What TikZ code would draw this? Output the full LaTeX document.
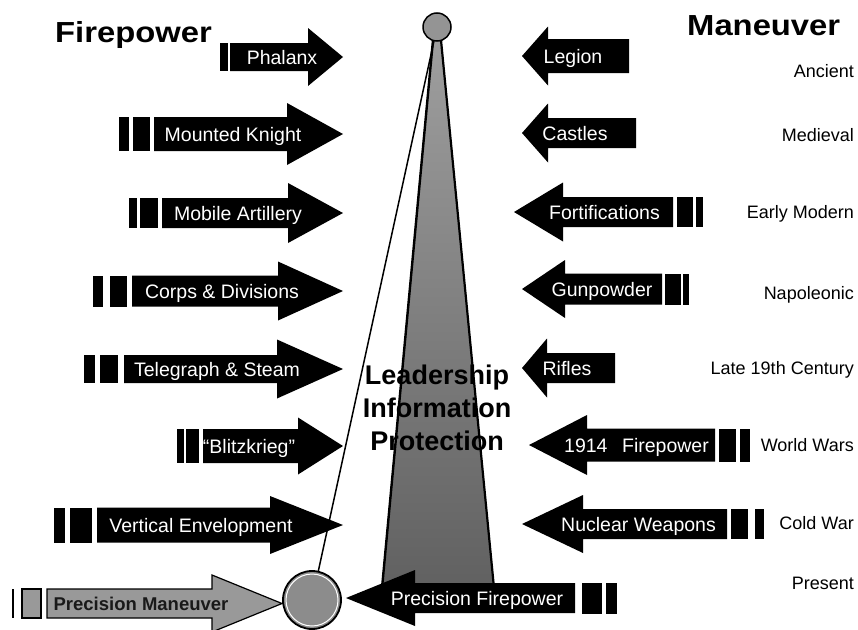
\documentclass[tikz,border=0pt]{standalone}
\usepackage{fontspec}
\setmainfont{Liberation Sans}
\newcommand\RightArr[6]{% x0, xhead, xtip, yc, body half, head half
  \fill (#1,#4-#5) -- (#2,#4-#5) -- (#2,#4-#6) -- (#3,#4) -- (#2,#4+#6) -- (#2,#4+#5) -- (#1,#4+#5) -- cycle;}
\newcommand\LeftArr[6]{% xtip, xhead, xend, yc, body half, head half
  \fill (#3,#4-#5) -- (#2,#4-#5) -- (#2,#4-#6) -- (#1,#4) -- (#2,#4+#6) -- (#2,#4+#5) -- (#3,#4+#5) -- cycle;}
\newcommand\TickBar[4]{\fill (#1,#3-#4) rectangle (#2,#3+#4);}
\tikzset{
  lbl/.style={text=white, font=\fontsize{19.5}{22}\selectfont, inner sep=0, anchor=base},
  era/.style={font=\fontsize{18}{21}\selectfont, inner sep=0, anchor=base east},
  ttl/.style={font=\bfseries\fontsize{29}{33}\selectfont, inner sep=0, anchor=base west},
  pm/.style={fill=black!40, draw=black, line width=1.2pt},
}
\begin{document}
\begin{tikzpicture}[x=1pt,y=-1pt]
\useasboundingbox[fill=white] (0,0) rectangle (858,629);

% cone
\fill[top color=black!38, bottom color=black!62]
  (433,40) -- (441,40) -- (494,588) -- (382,588) -- cycle;
\draw[line width=2.4pt] (433,40) -- (382,588);
\draw[line width=2.2pt] (441,40) -- (494,588);

% circles
\node[circle, draw, line width=1.5pt, fill=black!42, minimum size=28pt, inner sep=0] (tc) at (437,27) {};
\node[circle, draw, line width=1.8pt, fill=black!45, minimum size=58pt, inner sep=0] (bc) at (312,600) {};
\draw[white, line width=1pt] (bc.center) circle (26);
\draw[line width=1.5pt] (bc) -- (tc);

% titles
\node[ttl] (fp) at (55,42) {\scalebox{1.13}[1]{Firepower}};
\node[ttl] (mn) at (687,35) {\scalebox{1.13}[1]{Maneuver}};

% left column: right-pointing arrows
\TickBar{220}{228}{57}{14}
\RightArr{230}{308}{343}{57}{14}{29}
\node[lbl] (a1) at (282,64) {Phalanx};

\TickBar{119}{129}{134}{17}\TickBar{133}{150}{134}{17}
\RightArr{154}{287}{343}{134}{17}{31}
\node[lbl] (a2) at (233,141) {Mounted Knight};

\TickBar{129}{137}{213}{15}\TickBar{140}{158}{213}{15}
\RightArr{162}{288}{343}{213}{15}{30}
\node[lbl] (a3) at (238,220) {Mobile Artillery};

\TickBar{93}{103}{291}{15.5}\TickBar{110}{127}{291}{15.5}
\RightArr{132}{278}{343}{291}{15.5}{29.5}
\node[lbl] (a4) at (222,298) {Corps \& Divisions};

\TickBar{84}{95}{369}{14}\TickBar{100}{118}{369}{14}
\RightArr{124}{277}{343}{369}{14}{29.5}
\node[lbl] (a5) at (217,376) {Telegraph \& Steam};

\TickBar{177}{184}{446}{17}\TickBar{186}{199}{446}{17}
\RightArr{203}{298}{343}{446}{17}{28.5}
\node[lbl] (a6) at (249,453) {``Blitzkrieg''};

\TickBar{54}{65}{525}{17.5}\TickBar{70}{92}{525}{17.5}
\RightArr{97}{270}{343}{525}{17.5}{29}
\node[lbl] (a7) at (201,532) {Vertical Envelopment};

\TickBar{12}{14}{603.5}{14.5}
\draw[pm] (22,589) rectangle (41,618);
\draw[pm] (47,589) -- (212,589) -- (212,575) -- (282,603.5) -- (212,632) -- (212,618) -- (47,618) -- cycle;
\node[lbl, text=black!90, font=\bfseries\fontsize{18.5}{22}\selectfont] (a8) at (141,610) {Precision Maneuver};

% right column: left-pointing arrows
\LeftArr{522}{548}{629}{56}{17}{29.5}
\node[lbl] (b1) at (573,63) {Legion};

\LeftArr{522}{548}{636}{133}{15}{29.5}
\node[lbl] (b2) at (575,140) {Castles};

\LeftArr{514}{563}{673}{212}{15}{29.5}
\TickBar{677}{693}{212}{15}\TickBar{696}{703}{212}{15}
\node[lbl] (b3) at (604.5,219) {Fortifications};

\LeftArr{522}{565}{662}{289}{15.5}{29}
\TickBar{665}{681}{289}{15.5}\TickBar{683}{689}{289}{15.5}
\node[lbl] (b4) at (602,296) {Gunpowder};

\LeftArr{522}{547}{615}{368}{15}{29.5}
\node[lbl] (b5) at (567,375) {Rifles};

\LeftArr{529}{587}{715}{445}{16.5}{30}
\TickBar{719}{736}{445}{16.5}\TickBar{740}{750}{445}{16.5}
\node[lbl] (b6) at (636.5,452) {1914\hspace{0.75em}Firepower};

\LeftArr{522}{583}{727}{524}{15}{29}
\TickBar{731}{748}{524}{15}\TickBar{755}{764}{524}{15}
\node[lbl] (b7) at (638.5,531) {Nuclear Weapons};

\LeftArr{346}{415}{575}{598}{15}{28}
\TickBar{582}{602}{598.5}{15.5}\TickBar{606}{617}{598.5}{15.5}
\node[lbl] (b8) at (477,605) {Precision Firepower};

% centre text
\node[font=\bfseries\fontsize{27}{33}\selectfont, align=center, inner sep=0] (lip) at (437,408)
  {Leadership\\Information\\Protection};

% eras
\node[era] (e1) at (854,77) {Ancient};
\node[era] (e2) at (854,141) {Medieval};
\node[era] (e3) at (854,218) {Early Modern};
\node[era] (e4) at (854,299) {Napoleonic};
\node[era] (e5) at (854,374) {Late 19th Century};
\node[era] (e6) at (854,451) {World Wars};
\node[era] (e7) at (854,529) {Cold War};
\node[era] (e8) at (854,589) {Present};
\end{tikzpicture}
\end{document}
